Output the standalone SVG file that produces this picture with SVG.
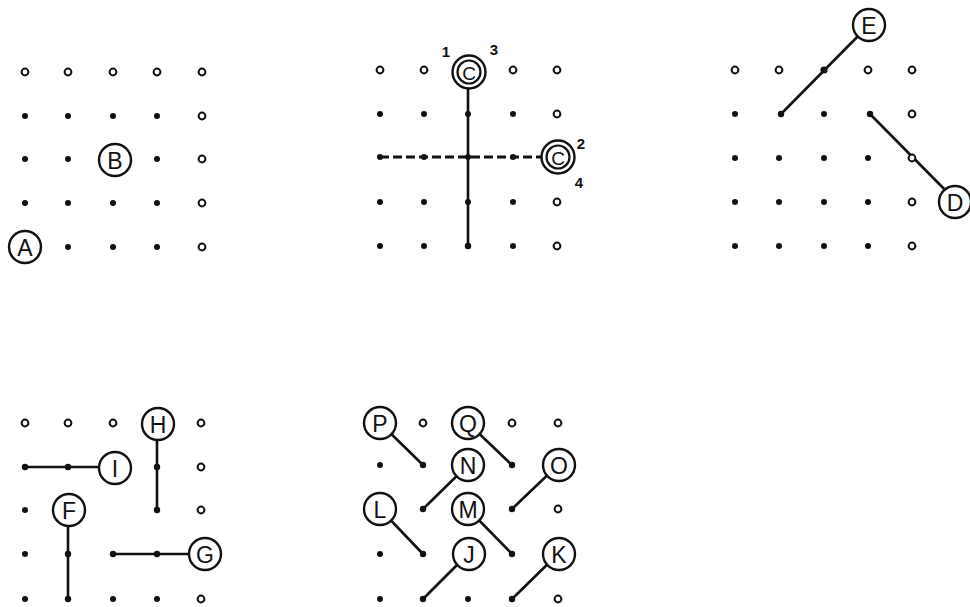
<svg xmlns="http://www.w3.org/2000/svg" width="970" height="607" viewBox="0 0 970 607">
<style>
.f{fill:#111}
.h{fill:#fff;stroke:#111;stroke-width:2}
.n{fill:#fff;stroke:#111;stroke-width:2.4}
.t{font-family:"Liberation Sans","DejaVu Sans",sans-serif;font-size:23px;fill:#111;text-anchor:middle;dominant-baseline:central}
.c{font-size:19px}
.s{font-family:"Liberation Sans","DejaVu Sans",sans-serif;font-size:15px;font-weight:bold;fill:#111;text-anchor:middle}
.l{stroke:#111;stroke-width:2.6;fill:none;stroke-linecap:round}
.d{stroke:#111;stroke-width:2.8;fill:none;stroke-dasharray:9 4}
</style>
<rect width="970" height="607" fill="#fff"/>

<!-- dots grid 1 -->
<g id="grid1">
<circle class="h" cx="25" cy="72" r="3.4"/><circle class="h" cx="68" cy="72" r="3.4"/><circle class="h" cx="113" cy="72" r="3.4"/><circle class="h" cx="157" cy="72" r="3.4"/><circle class="h" cx="202" cy="72" r="3.4"/>
<circle class="f" cx="25" cy="116" r="3"/><circle class="f" cx="68" cy="116" r="3"/><circle class="f" cx="113" cy="116" r="3"/><circle class="f" cx="157" cy="116" r="3"/><circle class="h" cx="202" cy="116" r="3.4"/>
<circle class="f" cx="25" cy="159" r="3"/><circle class="f" cx="68" cy="159" r="3"/><circle class="f" cx="157" cy="159" r="3"/><circle class="h" cx="202" cy="159" r="3.4"/>
<circle class="f" cx="25" cy="203" r="3"/><circle class="f" cx="68" cy="203" r="3"/><circle class="f" cx="113" cy="203" r="3"/><circle class="f" cx="157" cy="203" r="3"/><circle class="h" cx="202" cy="203" r="3.4"/>
<circle class="f" cx="68" cy="247" r="3"/><circle class="f" cx="113" cy="247" r="3"/><circle class="f" cx="157" cy="247" r="3"/><circle class="h" cx="202" cy="247" r="3.4"/>
</g>

<!-- dots grid 2 -->
<g id="grid2">
<circle class="h" cx="380" cy="70" r="3.4"/><circle class="h" cx="424" cy="70" r="3.4"/><circle class="h" cx="513" cy="70" r="3.4"/><circle class="h" cx="557" cy="70" r="3.4"/>
<circle class="f" cx="380" cy="114" r="3"/><circle class="f" cx="424" cy="114" r="3"/><circle class="f" cx="468" cy="114" r="3"/><circle class="f" cx="513" cy="114" r="3"/><circle class="h" cx="557" cy="114" r="3.4"/>
<circle class="f" cx="380" cy="157" r="3"/><circle class="f" cx="424" cy="157" r="3"/><circle class="f" cx="468" cy="157" r="3"/><circle class="f" cx="513" cy="157" r="3"/>
<circle class="f" cx="380" cy="202" r="3"/><circle class="f" cx="424" cy="202" r="3"/><circle class="f" cx="468" cy="202" r="3"/><circle class="f" cx="513" cy="202" r="3"/><circle class="h" cx="557" cy="202" r="3.4"/>
<circle class="f" cx="380" cy="246" r="3"/><circle class="f" cx="424" cy="246" r="3"/><circle class="f" cx="468" cy="246" r="3"/><circle class="f" cx="513" cy="246" r="3"/><circle class="h" cx="557" cy="246" r="3.4"/>
</g>

<!-- dots grid 3 -->
<g id="grid3">
<circle class="h" cx="735" cy="70" r="3.4"/><circle class="h" cx="779" cy="70" r="3.4"/><circle class="h" cx="868" cy="70" r="3.4"/><circle class="h" cx="912" cy="70" r="3.4"/>
<circle class="f" cx="735" cy="114" r="3"/><circle class="f" cx="824" cy="114" r="3"/><circle class="h" cx="912" cy="114" r="3.4"/>
<circle class="f" cx="735" cy="158" r="3"/><circle class="f" cx="779" cy="158" r="3"/><circle class="f" cx="824" cy="158" r="3"/><circle class="f" cx="868" cy="158" r="3"/>
<circle class="f" cx="735" cy="202" r="3"/><circle class="f" cx="779" cy="202" r="3"/><circle class="f" cx="824" cy="202" r="3"/><circle class="f" cx="868" cy="202" r="3"/><circle class="h" cx="912" cy="202" r="3.4"/>
<circle class="f" cx="735" cy="246" r="3"/><circle class="f" cx="779" cy="246" r="3"/><circle class="f" cx="824" cy="246" r="3"/><circle class="f" cx="868" cy="246" r="3"/><circle class="h" cx="912" cy="246" r="3.4"/>
</g>

<!-- dots grid 4 -->
<g id="grid4">
<circle class="h" cx="25" cy="423" r="3.4"/><circle class="h" cx="68" cy="423" r="3.4"/><circle class="h" cx="113" cy="423" r="3.4"/><circle class="h" cx="201" cy="423" r="3.4"/>
<circle class="h" cx="201" cy="467" r="3.4"/>
<circle class="f" cx="25" cy="510" r="3"/><circle class="h" cx="201" cy="510" r="3.4"/>
<circle class="f" cx="25" cy="554" r="3"/>
<circle class="f" cx="25" cy="599" r="3"/><circle class="f" cx="113" cy="599" r="3"/><circle class="f" cx="157" cy="599" r="3"/><circle class="h" cx="201" cy="599" r="3.4"/>
</g>

<!-- dots grid 5 -->
<g id="grid5">
<circle class="h" cx="423" cy="423" r="3.4"/><circle class="h" cx="512" cy="423" r="3.4"/><circle class="h" cx="558" cy="423" r="3.4"/>
<circle class="f" cx="380" cy="465" r="3"/>
<circle class="h" cx="558" cy="509" r="3.4"/>
<circle class="f" cx="380" cy="554" r="3"/>
<circle class="f" cx="380" cy="599" r="3"/><circle class="f" cx="468" cy="599" r="3"/><circle class="h" cx="558" cy="599" r="3.4"/>
</g>

<!-- connectors -->
<g id="connectors">
<line class="l" x1="468" y1="72" x2="468" y2="246"/>
<line class="d" x1="380" y1="157" x2="545" y2="157"/>
<line class="l" x1="869" y1="25" x2="781" y2="114"/>
<line class="l" x1="870" y1="114" x2="957" y2="202"/>
<line class="l" x1="157" y1="423" x2="157" y2="510"/>
<line class="l" x1="25" y1="467" x2="113" y2="467"/>
<line class="l" x1="68" y1="510" x2="68" y2="599"/>
<line class="l" x1="113" y1="554" x2="203" y2="554"/>
<line class="l" x1="380" y1="423" x2="423" y2="465"/>
<line class="l" x1="468" y1="423" x2="512" y2="465"/>
<line class="l" x1="468" y1="465" x2="423" y2="509"/>
<line class="l" x1="558" y1="465" x2="512" y2="509"/>
<line class="l" x1="380" y1="509" x2="423" y2="554"/>
<line class="l" x1="468" y1="509" x2="512" y2="554"/>
<line class="l" x1="468" y1="554" x2="423" y2="599"/>
<line class="l" x1="558" y1="554" x2="512" y2="599"/>
</g>

<!-- dots lying on connectors -->
<g id="line-dots">
<circle class="f" cx="468" cy="246" r="3.2"/>
<circle class="f" cx="824" cy="70" r="3.6"/><circle class="f" cx="781" cy="114" r="3.2"/><circle class="f" cx="870" cy="114" r="3.2"/>
<circle class="h" cx="912" cy="158" r="3.4"/>
<circle class="f" cx="157" cy="467" r="3.2"/><circle class="f" cx="157" cy="510" r="3.2"/>
<circle class="f" cx="25" cy="467" r="3.2"/><circle class="f" cx="68" cy="467" r="3.2"/>
<circle class="f" cx="68" cy="554" r="3.2"/><circle class="f" cx="68" cy="599" r="3.2"/>
<circle class="f" cx="113" cy="554" r="3.2"/><circle class="f" cx="157" cy="554" r="3.2"/>
<circle class="f" cx="423" cy="465" r="3.2"/><circle class="f" cx="512" cy="465" r="3.2"/>
<circle class="f" cx="423" cy="509" r="3.2"/><circle class="f" cx="512" cy="509" r="3.2"/>
<circle class="f" cx="423" cy="554" r="3.2"/><circle class="f" cx="512" cy="554" r="3.2"/>
<circle class="f" cx="423" cy="599" r="3.2"/><circle class="f" cx="512" cy="599" r="3.2"/>
</g>

<g id="node-A"><circle class="n" cx="25" cy="247" r="16"/><text class="t" x="25" y="248">A</text></g>
<g id="node-B"><circle class="n" cx="115" cy="160" r="16"/><text class="t" x="115" y="161">B</text></g>
<g id="node-C1"><circle class="n" cx="469" cy="72" r="16.5"/><circle cx="469" cy="72" r="11.5" fill="none" stroke="#111" stroke-width="2.2"/><text class="t c" x="469" y="73">C</text></g>
<g id="node-C2"><circle class="n" cx="558" cy="157" r="16.5"/><circle cx="558" cy="157" r="11.5" fill="none" stroke="#111" stroke-width="2.2"/><text class="t c" x="558" y="158">C</text></g>
<g id="labels-C">
<text class="s" x="446" y="57">1</text>
<text class="s" x="494" y="55">3</text>
<text class="s" x="581" y="149">2</text>
<text class="s" x="579" y="188">4</text>
</g>
<g id="node-E"><circle class="n" cx="869" cy="25" r="16"/><text class="t" x="869" y="26">E</text></g>
<g id="node-D"><circle class="n" cx="955" cy="202" r="16"/><text class="t" x="955" y="203">D</text></g>

<g id="node-H"><circle class="n" cx="158" cy="424" r="16"/><text class="t" x="158" y="425">H</text></g>
<g id="node-I"><circle class="n" cx="115" cy="468" r="16"/><text class="t" x="115" y="469">I</text></g>
<g id="node-F"><circle class="n" cx="69" cy="510" r="16"/><text class="t" x="69" y="511">F</text></g>
<g id="node-G"><circle class="n" cx="205" cy="554" r="16"/><text class="t" x="205" y="555">G</text></g>

<g id="node-P"><circle class="n" cx="380" cy="423" r="16"/><text class="t" x="380" y="424">P</text></g>
<g id="node-Q"><circle class="n" cx="468" cy="423" r="16"/><text class="t" x="468" y="424">Q</text></g>
<g id="node-N"><circle class="n" cx="468" cy="465" r="16"/><text class="t" x="468" y="466">N</text></g>
<g id="node-O"><circle class="n" cx="559" cy="465" r="16"/><text class="t" x="559" y="466">O</text></g>
<g id="node-L"><circle class="n" cx="380" cy="509" r="16"/><text class="t" x="380" y="510">L</text></g>
<g id="node-M"><circle class="n" cx="468" cy="509" r="16"/><text class="t" x="468" y="510">M</text></g>
<g id="node-J"><circle class="n" cx="469" cy="554" r="16"/><text class="t" x="469" y="555">J</text></g>
<g id="node-K"><circle class="n" cx="559" cy="554" r="16"/><text class="t" x="559" y="555">K</text></g>
</svg>
